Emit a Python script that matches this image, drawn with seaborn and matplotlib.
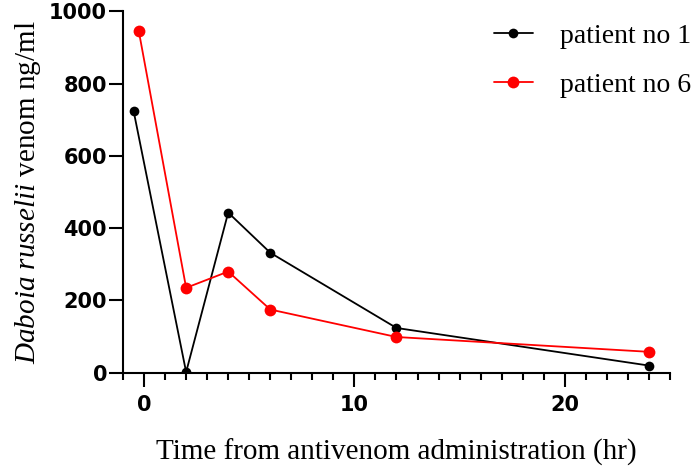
import numpy as np
import pandas as pd
import seaborn as sns
import matplotlib.pyplot as plt
from matplotlib.ticker import MultipleLocator

# values
time_p1 = [-0.5, 2, 4, 6, 12, 24]
venom_p1 = [725, 2, 443, 332, 124, 20]
time_p6 = [-0.25, 2, 4, 6, 12, 24]
venom_p6 = [945, 235, 280, 175, 99, 58]
series_names = ['patient no 1', 'patient no 6']
series_colors = ['black', 'red']

df = pd.concat([
    pd.DataFrame({'time': time_p1, 'venom': venom_p1, 'patient': series_names[0]}),
    pd.DataFrame({'time': time_p6, 'venom': venom_p6, 'patient': series_names[1]}),
])

sns.set_theme(style='ticks')
plt.rcParams['font.family'] = ['Liberation Serif', 'DejaVu Serif']
plt.rcParams['mathtext.fontset'] = 'custom'
plt.rcParams['mathtext.rm'] = 'Liberation Serif'
plt.rcParams['mathtext.it'] = 'Liberation Serif:italic'
plt.rcParams['text.color'] = 'black'
plt.rcParams['axes.labelcolor'] = 'black'
plt.rcParams['xtick.color'] = 'black'
plt.rcParams['ytick.color'] = 'black'

fig = plt.figure(figsize=(6.95, 4.66), dpi=100)
ax = fig.add_axes([0.177, 0.2, 0.787, 0.776])

msizes = [7, 8.5]
for name, col, ms in zip(series_names, series_colors, msizes):
    sub = df[df['patient'] == name]
    sns.lineplot(data=sub, x='time', y='venom', color=col, marker='o',
                 markersize=ms, markeredgewidth=0, linewidth=1.3,
                 label=name, ax=ax, sort=False)

ax.set_xlim(-1, 25)
ax.set_ylim(0, 1000)
ax.xaxis.set_major_locator(MultipleLocator(10))
ax.xaxis.set_minor_locator(MultipleLocator(1))
ax.yaxis.set_major_locator(MultipleLocator(200))

sns.despine(ax=ax)
for sp in ['left', 'bottom']:
    ax.spines[sp].set_linewidth(1.5)
    ax.spines[sp].set_color('black')

ax.tick_params(axis='both', which='major', length=10, width=1.5, color='black',
               labelcolor='black')
ax.tick_params(axis='x', which='minor', length=5, width=1.5, color='black')
ax.tick_params(axis='x', which='major', pad=6)
ax.tick_params(axis='y', which='major', pad=1.5)

for lab in ax.get_xticklabels() + ax.get_yticklabels():
    lab.set_fontfamily('DejaVu Sans')
    lab.set_fontweight('bold')
    lab.set_fontsize(15)

ax.set_xlabel('Time from antivenom administration (hr)', fontsize=21, labelpad=17)
ax.set_ylabel(r'$\it{Daboia\ russelii}$ venom ng/ml', fontsize=21, labelpad=4)

ax.legend(loc='upper right', bbox_to_anchor=(1.085, 1.035), frameon=False,
          fontsize=20, handlelength=1.4, labelspacing=0.85, handletextpad=1.0)

fig.savefig('out.png', dpi=100)
